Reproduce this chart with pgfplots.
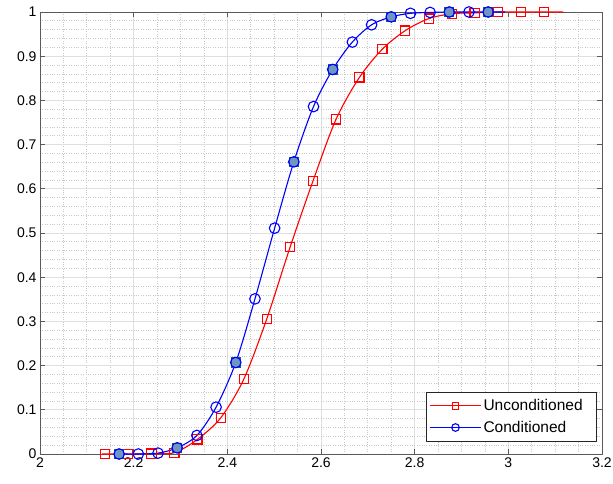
\documentclass[border=0pt]{standalone}
\usepackage{pgfplots}
\pgfplotsset{compat=1.18}
\usepackage{fontspec}
\setmainfont{Liberation Sans}
\definecolor{mgrid}{RGB}{223,223,223}
\definecolor{ngrid}{RGB}{200,200,200}
\definecolor{axcol}{RGB}{90,90,90}
\definecolor{sqfill}{RGB}{110,150,192}
\definecolor{sqdraw}{RGB}{25,95,135}
\begin{document}
\begin{tikzpicture}
\begin{axis}[
  scale only axis, width=562pt, height=442pt,
  xmin=2, xmax=3.2, ymin=0, ymax=1,
  xtick={2,2.2,2.4,2.6,2.8,3,3.2},
  xticklabels={2,2.2,2.4,2.6,2.8,3,3.2},
  ytick={0,0.1,0.2,0.3,0.4,0.5,0.6,0.7,0.8,0.9,1},
  yticklabels={0,0.1,0.2,0.3,0.4,0.5,0.6,0.7,0.8,0.9,1},
  minor x tick num=3, minor y tick num=4,
  grid=both,
  major grid style={draw=mgrid, line width=0.7pt},
  minor grid style={draw=ngrid, dotted, line width=0.7pt},
  tick align=inside,
  axis line style={draw=axcol, line width=0.8pt},
  major tick style={draw=axcol, line width=0.8pt},
  major tick length=5pt, minor tick length=0pt,
  ticklabel style={font=\fontsize{14}{16}\selectfont},
  /pgf/number format/assume math mode=true,
  legend style={at={(0.991,0.029)}, anchor=south east, draw=black!85,
    line width=0.6pt, fill=white, font=\fontsize{15.5}{17}\selectfont,
    inner xsep=3pt, inner ysep=5pt, row sep=5pt,
    /tikz/every even column/.append style={column sep=1pt}},
  legend cell align=left,
  legend image code/.code={%
    \draw[#1, mark=none] (0pt,0pt) -- (51pt,0pt);
    \path[#1, every mark/.append style={scale=0.72}, mark indices={1}] plot coordinates {(25.5pt,0pt)};},
]
\addplot[red, line width=1.1pt, smooth, mark=square, mark size=4.6pt,
  mark options={solid, line width=1.1pt}, mark indices={2,...,21}] coordinates {
(2.132,0) (2.139,0.000) (2.188,0.000) (2.238,0.001) (2.287,0.003) (2.336,0.033)
(2.386,0.082) (2.435,0.169) (2.484,0.305) (2.534,0.468) (2.583,0.618)
(2.632,0.757) (2.682,0.852) (2.731,0.916) (2.780,0.958) (2.830,0.985)
(2.879,0.996) (2.928,0.998) (2.978,1.000) (3.027,1.000) (3.076,1.000) (3.117,1.000)
};
\addlegendentry{Unconditioned\hspace*{9pt}}
\addplot[only marks, mark=square*, mark size=4.6pt,
  mark options={fill=sqfill, draw=sqdraw, line width=1.1pt}, forget plot] coordinates {
(2.169,0.000) (2.293,0.014) (2.418,0.207) (2.542,0.661) (2.625,0.870)
(2.750,0.989) (2.874,1.000) (2.957,1.000)
};
\addplot[blue, line width=1.1pt, smooth, mark=o, mark size=5.3pt,
  mark options={solid, line width=1.1pt}, mark indices={2,...,21}] coordinates {
(2.160,0) (2.169,0.000) (2.210,0.000) (2.252,0.002) (2.293,0.014) (2.335,0.042)
(2.376,0.106) (2.418,0.207) (2.459,0.351) (2.501,0.511) (2.542,0.661)
(2.584,0.786) (2.625,0.870) (2.667,0.932) (2.708,0.971) (2.750,0.989)
(2.791,0.997) (2.833,0.999) (2.874,1.000) (2.916,1.000) (2.957,1.000) (2.993,1.000)
};
\addlegendentry{Conditioned}
\end{axis}
\pgfresetboundingbox
\path ([xshift=-40pt,yshift=-29pt]current axis.south west) rectangle ([xshift=11pt,yshift=12pt]current axis.north east);
\end{tikzpicture}
\end{document}
